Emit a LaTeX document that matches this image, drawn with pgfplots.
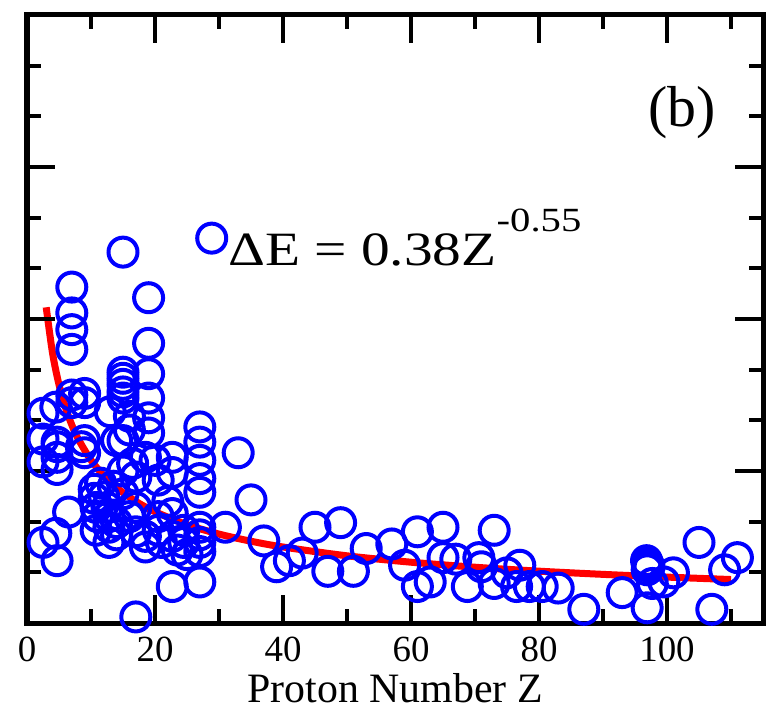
\documentclass[border=0pt]{standalone}
\usepackage{fontspec}
\setmainfont{Liberation Serif}
\usepackage{pgfplots}
\pgfplotsset{compat=1.18}
\pgfplotstableread{
Z E
2.5 0.138
2.5 0.121
2.5 0.106
2.5 0.053
4.5 0.142
4.7 0.119
4.7 0.116
4.7 0.109
4.7 0.101
4.5 0.059
4.7 0.041
6.5 0.073
7 0.221
7 0.204
7 0.193
7 0.180
7 0.150
7 0.145
8.5 0.116
9 0.151
9 0.145
9 0.120
9 0.112
10.5 0.088
10.5 0.082
10.8 0.076
10.8 0.061
11 0.070
11.5 0.092
12 0.083
12.5 0.076
12.8 0.070
12.8 0.063
12.8 0.053
13 0.139
13.5 0.090
14 0.120
14 0.066
14 0.058
15 0.244
15 0.165
15 0.161
15 0.157
15 0.152
15 0.148
15 0.120
15 0.100
15 0.085
16 0.136
16 0.127
16 0.070
16.5 0.105
17 0.096
17 0.076
17 0.060
17 0.004
19 0.214
19 0.184
19 0.164
19 0.148
19 0.135
19 0.125
18.5 0.109
18.5 0.057
18.5 0.050
20 0.107
20.5 0.094
20.5 0.070
20.5 0.061
21 0.053
22 0.080
22.7 0.109
22.7 0.099
22.7 0.072
22.7 0.057
22.7 0.024
23.5 0.048
24.5 0.061
24.5 0.053
25 0.045
27 0.129
27 0.119
27 0.107
27 0.095
27 0.086
27 0.063
27 0.058
27 0.053
27 0.047
27 0.027
31 0.063
33 0.112
35 0.081
37 0.054
39 0.037
41 0.041
43 0.046
45 0.063
47 0.034
49 0.066
51 0.034
53 0.049
57 0.052
59 0.038
61 0.060
61 0.024
63 0.027
65 0.063
65 0.043
67 0.042
68.8 0.024
70.6 0.043
71 0.037
73 0.061
73 0.026
75 0.033
77 0.038
76.5 0.024
78.5 0.024
80.5 0.024
83 0.023
87 0.009
93 0.020
96.8 0.041
97 0.039
97.2 0.037
96.9 0.035
97.7 0.026
96.9 0.010
99.5 0.027
101 0.033
105 0.053
107 0.009
109 0.035
111 0.043
}\datapts
\pgfplotstableread{
Z E
3 0.2077
4 0.1773
5 0.1568
6 0.1419
7 0.1303
8 0.1211
10 0.1071
12 0.0969
14 0.0890
17 0.0800
20 0.0732
25 0.0647
30 0.0585
35 0.0538
40 0.0500
50 0.0442
60 0.0400
70 0.0367
80 0.0341
90 0.0320
100 0.0302
110 0.0286
}\fitcurve
\begin{document}
\begin{tikzpicture}
\begin{axis}[name=ax,
  scale only axis, width=736bp, height=608bp,
  xmin=0, xmax=115, ymin=0, ymax=0.4,
  clip=false, axis on top,
  xtick={0,20,40,60,80,100}, minor xtick={10,30,50,70,90,110},
  ytick={0,0.1,0.2,0.3,0.4}, minor y tick num=2, yticklabels={},
  tick align=inside, major tick length=28bp, minor tick length=14bp,
  tick style={black, line width=4bp},
  axis line style={line width=5bp},
  /pgf/number format/assume math mode=true,
  ticklabel style={font=\fontsize{37}{40}\selectfont},
  xticklabel style={yshift=-10bp},
  xlabel={Proton Number Z},
  xlabel style={font=\fontsize{42}{46}\selectfont, yshift=-5bp},
  legend style={draw=none, fill=none, inner sep=0pt, at={(0.231,0.633)}, anchor=west,
    font=\fontsize{48}{52}\selectfont, /tikz/every even column/.append style={column sep=0bp}},
  legend image code/.code={\draw[#1] plot coordinates {(0.3cm,0cm)};},
]
\addplot[only marks, mark=o, mark size=14.5bp, blue, mark options={line width=4bp}] table[x=Z,y=E] {\datapts};
\addlegendentry{\scalebox{1.2}[1]{ΔE = 0.38Z\raisebox{0.72em}{\fontsize{34}{34}\selectfont -0.55}}}
\addplot[red, line width=7bp, smooth, forget plot] table[x=Z,y=E] {\fitcurve};
\node[font=\fontsize{58}{60}\selectfont] at (rel axis cs:0.89,0.84) {(b)};
\end{axis}
\pgfresetboundingbox
\path ([shift={(-27bp,-90bp)}]ax.south west) rectangle ([shift={(4bp,15bp)}]ax.north east);
\end{tikzpicture}
\end{document}
